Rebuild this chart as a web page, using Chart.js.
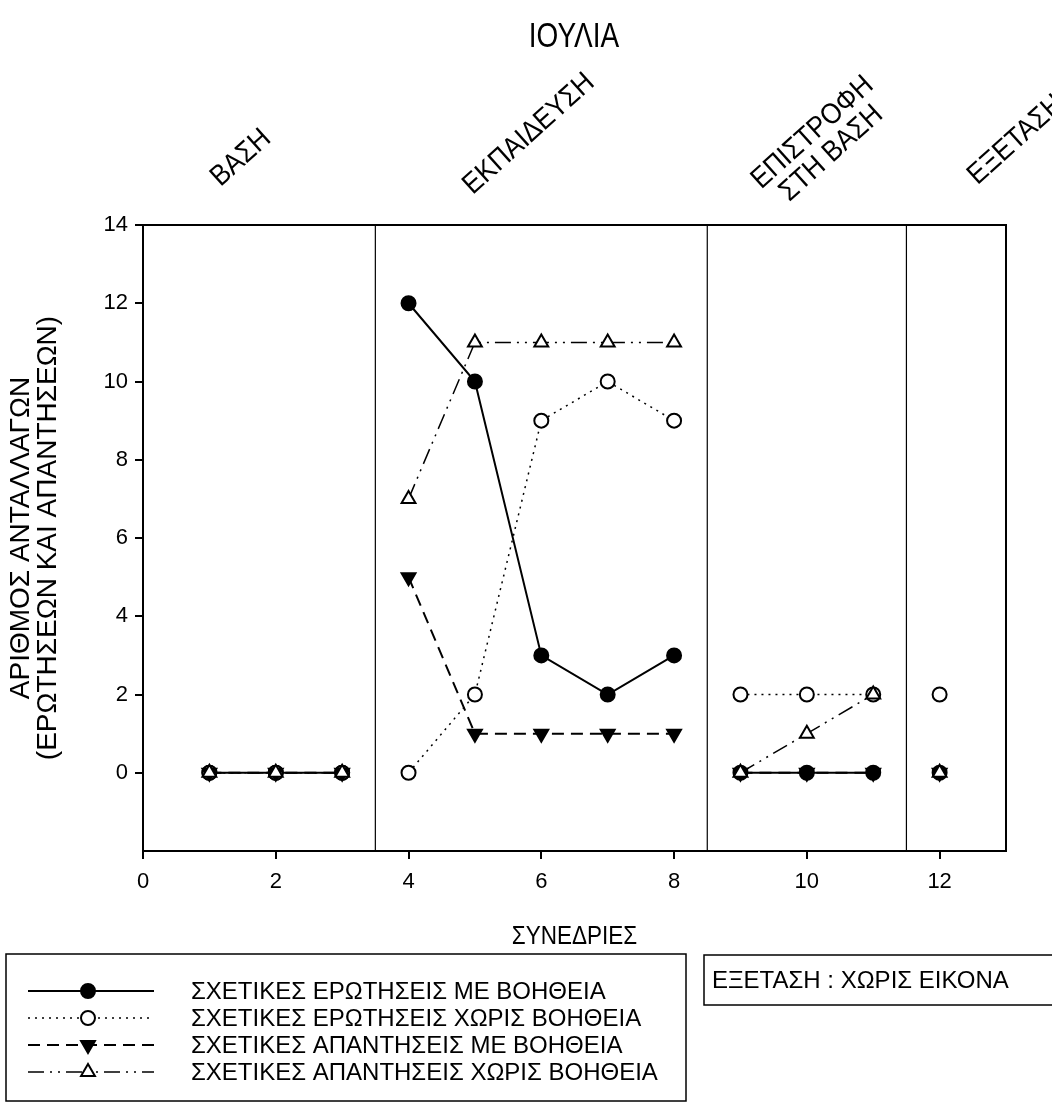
<!DOCTYPE html>
<html>
<head>
<meta charset="utf-8">
<script src="https://cdn.jsdelivr.net/npm/chart.js@4.4.1/dist/chart.umd.min.js"></script>
<style>
  body { margin: 0; background: #fff; }
  canvas { display: block; }
</style>
</head>
<body>
<canvas id="grafico" width="1052" height="1104"></canvas>
<script>
// datos
const sesiones = [1, 2, 3, 4, 5, 6, 7, 8, 9, 10, 11, 12]
const cortesFase = [3.5, 8.5, 11.5]
const preguntasConAyuda = [0, 0, 0, 12, 10, 3, 2, 3, 0, 0, 0, 0]
const preguntasSinAyuda = [0, 0, 0, 0, 2, 9, 10, 9, 2, 2, 2, 2]
const respuestasConAyuda = [0, 0, 0, 5, 1, 1, 1, 1, 0, 0, 0, 0]
const respuestasSinAyuda = [0, 0, 0, 7, 11, 11, 11, 11, 0, 1, 2, 0]
const nombresSeries = [
  'ΣΧΕΤΙΚΕΣ ΕΡΩΤΗΣΕΙΣ ΜΕ ΒΟΗΘΕΙΑ',
  'ΣΧΕΤΙΚΕΣ ΕΡΩΤΗΣΕΙΣ ΧΩΡΙΣ ΒΟΗΘΕΙΑ',
  'ΣΧΕΤΙΚΕΣ ΑΠΑΝΤΗΣΕΙΣ ΜΕ ΒΟΗΘΕΙΑ',
  'ΣΧΕΤΙΚΕΣ ΑΠΑΝΤΗΣΕΙΣ ΧΩΡΙΣ ΒΟΗΘΕΙΑ'
]
const fases = ['ΒΑΣΗ', 'ΕΚΠΑΙΔΕΥΣΗ', ['ΕΠΙΣΤΡΟΦΗ', 'ΣΤΗ ΒΑΣΗ'], 'ΕΞΕΤΑΣΗ']
const titulo = 'ΙΟΥΛΙΑ'
const tituloX = 'ΣΥΝΕΔΡΙΕΣ'
const tituloY = ['ΑΡΙΘΜΟΣ ΑΝΤΑΛΛΑΓΩΝ', '(ΕΡΩΤΗΣΕΩΝ ΚΑΙ ΑΠΑΝΤΗΣΕΩΝ)']
const nota = 'ΕΞΕΤΑΣΗ : ΧΩΡΙΣ ΕΙΚΟΝΑ'

const FUENTE = "'Liberation Sans', Arial, sans-serif"

// arma los puntos, con un hueco (null) en cada cambio de fase para cortar la linea
const armarPuntos = (valores) => {
  const puntos = []
  sesiones.forEach((s, i) => {
    puntos.push({ x: s, y: valores[i] })
    const corte = cortesFase.find(c => c > s && i + 1 < sesiones.length && c < sesiones[i + 1])
    if (corte !== undefined) puntos.push({ x: corte, y: null })
  })
  return puntos
}

const serie = (label, valores, estilo) => Object.assign({
  label: label,
  data: armarPuntos(valores),
  borderColor: '#000',
  pointBorderColor: '#000',
  spanGaps: false,
  tension: 0,
  pointRadius: 7,
  pointBorderWidth: 2
}, estilo)

const datasets = [
  serie(nombresSeries[0], preguntasConAyuda, {
    borderWidth: 2, borderDash: [], pointStyle: 'circle',
    pointBackgroundColor: '#000', backgroundColor: '#000', order: 4
  }),
  serie(nombresSeries[1], preguntasSinAyuda, {
    borderWidth: 1.5, borderDash: [2, 5], pointStyle: 'circle',
    pointBackgroundColor: '#fff', backgroundColor: '#fff', order: 3
  }),
  serie(nombresSeries[2], respuestasConAyuda, {
    borderWidth: 2, borderDash: [12, 7], pointStyle: 'triangle', pointRotation: 180,
    pointRadius: 8, pointBackgroundColor: '#000', backgroundColor: '#000', order: 2
  }),
  serie(nombresSeries[3], respuestasSinAyuda, {
    borderWidth: 1.5, borderDash: [16, 6, 2, 6, 2, 6], pointStyle: 'triangle',
    pointRadius: 8, pointBackgroundColor: '#fff', backgroundColor: '#fff', order: 1
  })
]

// marcador simple para la leyenda
const dibujarMarcador = (ctx, ds, x, y) => {
  const r = ds.pointRadius
  ctx.save()
  ctx.setLineDash([])
  ctx.lineWidth = ds.pointBorderWidth
  ctx.strokeStyle = '#000'
  ctx.fillStyle = ds.pointBackgroundColor
  ctx.beginPath()
  if (ds.pointStyle === 'circle') {
    ctx.arc(x, y, r, 0, Math.PI * 2)
  } else {
    ctx.translate(x, y)
    ctx.rotate((ds.pointRotation || 0) * Math.PI / 180)
    const s = r * 3 / Math.sqrt(3)
    const h = s * Math.sqrt(3) / 2
    ctx.moveTo(0, -2 * h / 3)
    ctx.lineTo(s / 2, h / 3)
    ctx.lineTo(-s / 2, h / 3)
    ctx.closePath()
  }
  ctx.fill()
  ctx.stroke()
  ctx.restore()
}

// texto un poco angosto, como en el original
const textoAngosto = (ctx, texto, x, y, sx) => {
  ctx.save()
  ctx.translate(x, y)
  ctx.scale(sx, 1)
  ctx.fillText(texto, 0, 0)
  ctx.restore()
}

const marcoYFases = {
  id: 'marcoYFases',
  beforeDatasetsDraw(chart) {
    const { ctx, chartArea: a, scales } = chart
    ctx.save()
    ctx.strokeStyle = '#000'
    ctx.lineWidth = 1.2
    cortesFase.forEach(c => {
      const x = scales.x.getPixelForValue(c)
      ctx.beginPath()
      ctx.moveTo(x, a.top)
      ctx.lineTo(x, a.bottom)
      ctx.stroke()
    })
    ctx.lineWidth = 2
    ctx.strokeRect(a.left, a.top, a.right - a.left, a.bottom - a.top)
    ctx.restore()
  },
  afterDraw(chart) {
    const { ctx, chartArea: a } = chart
    ctx.save()
    ctx.fillStyle = '#000'
    ctx.textAlign = 'center'
    ctx.textBaseline = 'middle'
    // titulo
    ctx.font = '35px ' + FUENTE
    textoAngosto(ctx, titulo, 574, 37, 0.8)
    // fases, giradas
    const anclas = [[241, 158], [529, 134], [822, 143], [1016, 140]]
    ctx.font = '29px ' + FUENTE
    fases.forEach((f, i) => {
      const lineas = Array.isArray(f) ? f : [f]
      ctx.save()
      ctx.translate(anclas[i][0], anclas[i][1])
      ctx.rotate(-42 * Math.PI / 180)
      lineas.forEach((l, j) => {
        textoAngosto(ctx, l, 0, (j - (lineas.length - 1) / 2) * 28, 0.9)
      })
      ctx.restore()
    })
    // titulo eje x
    ctx.font = '25px ' + FUENTE
    textoAngosto(ctx, tituloX, (a.left + a.right) / 2, 937, 0.9)

    // leyenda
    ctx.lineWidth = 1.5
    ctx.strokeStyle = '#000'
    ctx.strokeRect(6, 954, 680, 147)
    ctx.textAlign = 'left'
    ctx.font = '24px ' + FUENTE
    chart.data.datasets.forEach((ds, i) => {
      const y = 991 + i * 27
      ctx.save()
      ctx.lineWidth = ds.borderWidth
      ctx.setLineDash(ds.borderDash)
      ctx.beginPath()
      ctx.moveTo(28, y)
      ctx.lineTo(154, y)
      ctx.stroke()
      ctx.restore()
      dibujarMarcador(ctx, ds, 88, y)
      ctx.fillText(ds.label, 191, y + 1)
    })

    // nota
    ctx.lineWidth = 1.5
    ctx.strokeRect(704, 955, 360, 50)
    ctx.font = '24px ' + FUENTE
    ctx.fillText(nota, 712, 981)
    ctx.restore()
  }
}

const crearGrafico = (canvasid) => {
  const config = {
    type: 'line',
    data: { datasets: datasets },
    options: {
      responsive: false,
      animation: false,
      layout: { padding: { top: 225, right: 46, left: 0, bottom: 0 } },
      plugins: {
        legend: { display: false },
        tooltip: { enabled: false }
      },
      scales: {
        x: {
          type: 'linear',
          min: 0,
          max: 13,
          afterFit: (s) => { s.height = 253 },
          border: { display: true, color: '#000', width: 2 },
          grid: { drawOnChartArea: false, drawTicks: true, tickLength: 8, color: '#000', lineWidth: 2 },
          ticks: {
            stepSize: 2, includeBounds: false, color: '#000', padding: 10,
            font: { family: FUENTE, size: 22 }
          }
        },
        y: {
          min: -2,
          max: 14,
          afterFit: (s) => { s.width = 143 },
          border: { display: true, color: '#000', width: 2 },
          grid: { drawOnChartArea: false, drawTicks: true, tickLength: 8, color: '#000', lineWidth: 2 },
          ticks: {
            stepSize: 2, color: '#000', padding: 7,
            font: { family: FUENTE, size: 22 },
            callback: (v) => v < 0 ? null : v
          },
          title: {
            display: true, text: tituloY, color: '#000',
            font: { family: FUENTE, size: 28, lineHeight: 0.95 },
            padding: { top: 8, bottom: 0 }
          }
        }
      }
    },
    plugins: [marcoYFases]
  }
  return new Chart(document.getElementById(canvasid), config)
}

crearGrafico('grafico')
</script>
</body>
</html>
